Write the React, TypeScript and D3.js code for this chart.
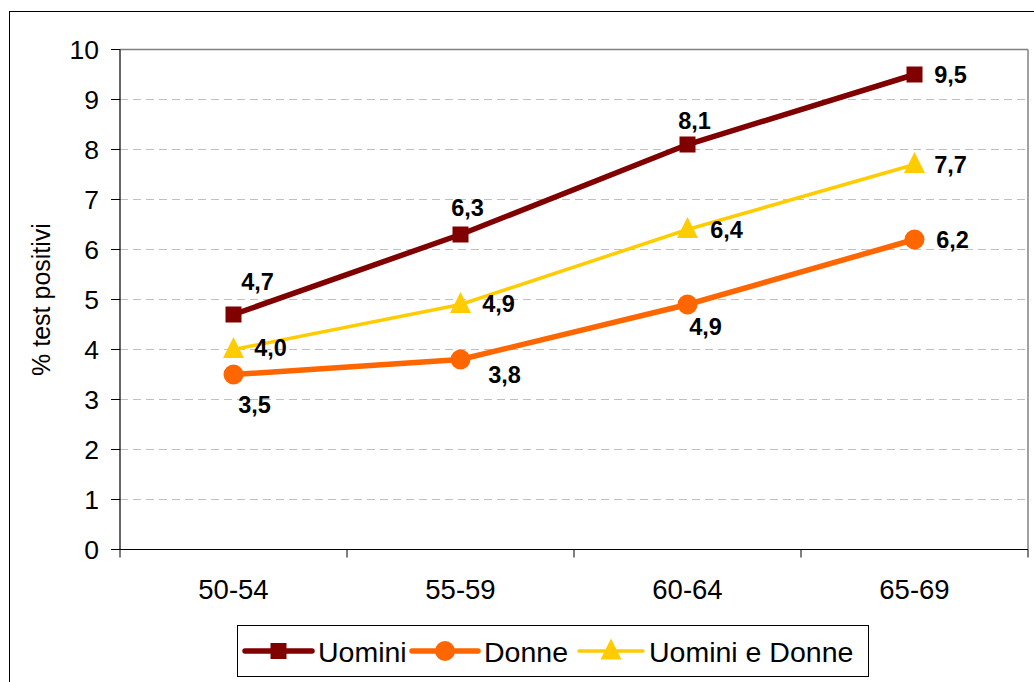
import React from "react";
import * as d3 from "d3";

const categories = ["50-54", "55-59", "60-64", "65-69"];
const uomini = [4.7, 6.3, 8.1, 9.5];
const donne = [3.5, 3.8, 4.9, 6.2];
const uominiDonne = [4.0, 4.9, 6.4, 7.7];
const yTicks = [0, 1, 2, 3, 4, 5, 6, 7, 8, 9, 10];
const seriesNames = ["Uomini", "Donne", "Uomini e Donne"];

const W = 1034, H = 682;
const plot = { left: 120, right: 1028, top: 49.5, bottom: 549.5 };
const FONT = "'Liberation Sans', Arial, sans-serif";

export default function App() {
  const x = d3.scaleBand<string>().domain(categories).range([plot.left, plot.right]);
  const y = d3.scaleLinear().domain([0, 10]).range([plot.bottom, plot.top]);
  const cx = (c: string) => (x(c) as number) + x.bandwidth() / 2;
  const line = d3.line<[number, number]>().x((d) => d[0]).y((d) => d[1]);
  const pts = (vals: number[]) => vals.map((v, i) => [cx(categories[i]), y(v)] as [number, number]);
  const fmt = (v: number) => v.toFixed(1).replace(".", ",");

  const series = [
    { name: seriesNames[0], vals: uomini, color: "#800000", width: 5.5, marker: "square",
      off: [[24, -33], [7, -27], [7, -24], [36, 0]] },
    { name: seriesNames[1], vals: donne, color: "#FF6600", width: 5.5, marker: "circle",
      off: [[21, 30], [44, 15], [18, 22], [38, 0]] },
    { name: seriesNames[2], vals: uominiDonne, color: "#FFCC00", width: 3.5, marker: "triangle",
      off: [[37, -2], [38, -1], [39, 0], [36, 0]] },
  ];

  const marker = (kind: string, px: number, py: number, color: string, key: string) => {
    if (kind === "square") return <rect key={key} x={px - 8} y={py - 8} width={16} height={16} fill={color} />;
    if (kind === "circle") return <circle key={key} cx={px} cy={py} r={10} fill={color} />;
    return <path key={key} d={`M${px},${py - 12.5}L${px + 10.5},${py + 8.5}L${px - 10.5},${py + 8.5}Z`} fill={color} />;
  };

  const legendItems = [
    { lx: 245, tx: 318 },
    { lx: 412, tx: 484 },
    { lx: 579, tx: 649 },
  ];

  return (
    <svg width={W} height={H} style={{ position: "absolute", left: 0, top: 0, background: "#fff" }} fontFamily={FONT}>
      <rect x={9.5} y={11.5} width={1040} height={700} fill="none" stroke="#000" strokeWidth={1} />
      {/* gridlines */}
      {yTicks.filter((t) => t > 0 && t < 10).map((t) => (
        <line key={t} x1={plot.left} x2={plot.right} y1={y(t)} y2={y(t)} stroke="#c0c0c0" strokeWidth={1} strokeDasharray="8,5" />
      ))}
      <line x1={plot.left} x2={plot.right} y1={plot.top} y2={plot.top} stroke="#808080" strokeWidth={1.5} />
      <line x1={plot.right} x2={plot.right} y1={plot.top} y2={plot.bottom} stroke="#808080" strokeWidth={1.5} />
      {/* axes */}
      <line x1={plot.left} x2={plot.left} y1={plot.top} y2={plot.bottom} stroke="#000" strokeWidth={1.2} />
      <line x1={plot.left} x2={plot.right} y1={plot.bottom} y2={plot.bottom} stroke="#000" strokeWidth={1.2} />
      {yTicks.map((t) => (
        <g key={t}>
          <line x1={plot.left - 9} x2={plot.left} y1={y(t)} y2={y(t)} stroke="#000" strokeWidth={1} />
          <text x={99} y={y(t) + 9.5} textAnchor="end" fontSize={26.5} fill="#000">{t}</text>
        </g>
      ))}
      {[...categories.map((c) => x(c) as number), plot.right].map((xv, i) => (
        <line key={i} x1={xv} x2={xv} y1={plot.bottom} y2={plot.bottom + 8} stroke="#000" strokeWidth={1} />
      ))}
      {categories.map((c) => (
        <text key={c} x={cx(c)} y={599} textAnchor="middle" fontSize={27.5} fill="#000">{c}</text>
      ))}
      <text transform={`translate(50,${(plot.top + plot.bottom) / 2}) rotate(-90)`} textAnchor="middle" fontSize={25} fill="#000">% test positivi</text>
      {/* series */}
      {series.map((s) => (
        <g key={s.name}>
          <path d={line(pts(s.vals)) as string} fill="none" stroke={s.color} strokeWidth={s.width} />
          {pts(s.vals).map((p, i) => marker(s.marker, p[0], p[1], s.color, s.name + i))}
        </g>
      ))}
      {series.map((s) => pts(s.vals).map((p, i) => (
        <text key={s.name + "l" + i} x={p[0] + s.off[i][0]} y={p[1] + s.off[i][1] + 8} textAnchor="middle" fontSize={23.5} fontWeight="bold" fill="#000">{fmt(s.vals[i])}</text>
      )))}
      {/* legend */}
      <rect x={237.5} y={625.5} width={631} height={51} fill="#fff" stroke="#000" strokeWidth={1} />
      {series.map((s, i) => (
        <g key={s.name + "leg"}>
          <line x1={legendItems[i].lx} x2={legendItems[i].tx - 6} y1={651} y2={651} stroke={s.color} strokeWidth={s.width} strokeLinecap="round" />
          {marker(s.marker, (legendItems[i].lx + legendItems[i].tx - 6) / 2, 651, s.color, s.name + "lm")}
          <text x={legendItems[i].tx} y={662} fontSize={28.5} fill="#000">{s.name}</text>
        </g>
      ))}
    </svg>
  );
}
